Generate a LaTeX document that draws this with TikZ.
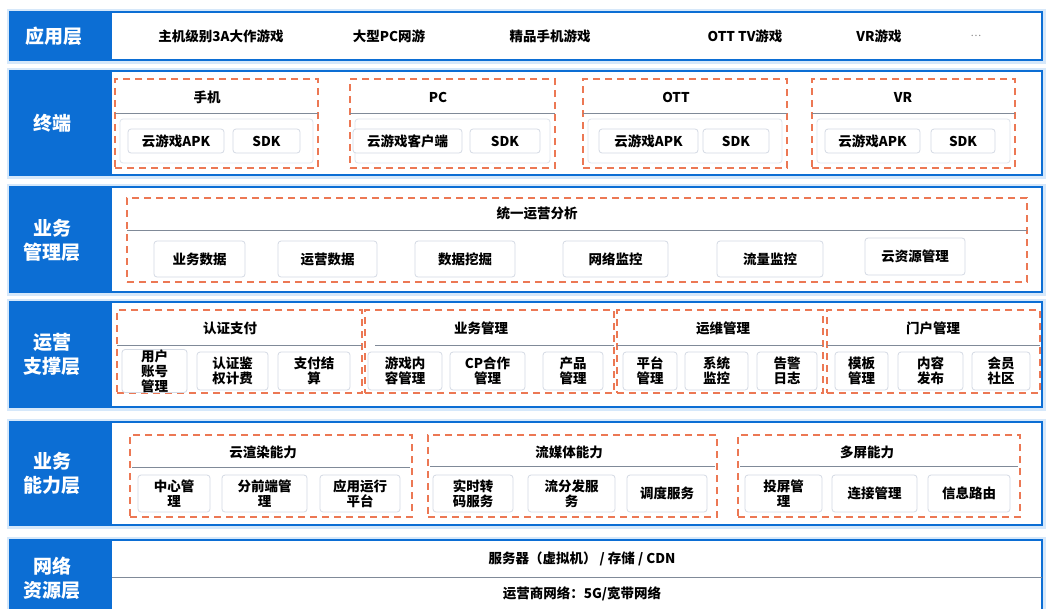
\documentclass[tikz,border=0pt]{standalone}
\usepackage{fontspec}
\setmainfont{Noto Sans CJK SC}
\definecolor{lblue}{RGB}{12,110,212}
\definecolor{glow}{RGB}{214,232,250}
\definecolor{dorange}{RGB}{236,120,84}
\definecolor{divgrey}{RGB}{128,138,152}
\definecolor{btngrey}{RGB}{212,218,228}
\definecolor{inner}{RGB}{222,228,236}
\newcommand\mkbox[7]{\node[#1, minimum width={#5-#3}, minimum height={#6-#4}] (#2) at ({(#3+#5)/2},{(#4+#6)/2}) {#7};}
\begin{document}
\begin{tikzpicture}[x=1pt,y=-1pt,
  bandglow/.style={draw=glow, line width=7pt, inner sep=0},
  band/.style={draw=lblue, line width=2.6pt, fill=white, inner sep=0},
  lab/.style={fill=lblue, inner sep=0},
  labtext/.style={text=white, font=\fontsize{19}{24}\selectfont\bfseries, align=center, inner sep=0},
  grp/.style={draw=dorange, line width=1.3pt, dash pattern=on 7pt off 5pt, inner sep=0},
  inbox/.style={draw=inner, line width=0.8pt, rounded corners=3pt, inner sep=0},
  btn/.style={draw=btngrey, fill=white, rounded corners=3pt, line width=0.8pt, font=\fontsize{13.5}{15}\selectfont\bfseries, align=center, inner sep=0},
  ttl/.style={font=\fontsize{13.5}{15}\selectfont\bfseries, inner sep=0},
  apptext/.style={font=\fontsize{13.5}{15}\selectfont\bfseries, inner sep=0},
  div/.style={draw=divgrey, line width=1pt}]
\useasboundingbox[fill=white] (0,0) rectangle (1051,608);

% ---------- Band 1 ----------
\mkbox{bandglow}{G1}{10}{12}{1042}{60}{}
\mkbox{band}{B1}{10}{12}{1042}{60}{}
\mkbox{lab}{L1}{10}{12}{112}{60}{}
\node[labtext] (T1) at (54,36) {应用层};
\node[apptext] (a1) at (221,36) {主机级别3A大作游戏};
\node[apptext] (a2) at (389,36) {大型PC网游};
\node[apptext] (a3) at (550,36) {精品手机游戏};
\node[apptext] (a4) at (745,36) {OTT TV游戏};
\node[apptext] (a5) at (879,36) {VR游戏};
\node[apptext, text=gray, font=\fontsize{10}{12}\selectfont] (a6) at (976,36) {…};

% ---------- Band 2 ----------
\mkbox{bandglow}{G2}{10}{71}{1042}{175}{}
\mkbox{band}{B2}{10}{71}{1042}{175}{}
\mkbox{lab}{L2}{10}{71}{112}{175}{}
\node[labtext] (T2) at (52,123) {终端};
% groups
\mkbox{grp}{g21}{115}{79}{318}{168}{}
\mkbox{grp}{g22}{350}{79}{555}{168}{}
\mkbox{grp}{g23}{583}{79}{787}{168}{}
\mkbox{grp}{g24}{812}{79}{1015}{168}{}
\node[ttl] (t21) at (207,97) {手机};
\node[ttl] (t22) at (438,97) {PC};
\node[ttl] (t23) at (676,97) {OTT};
\node[ttl] (t24) at (903,97) {VR};
\draw[div] (115,113) -- (318,113);
\draw[div] (350,113) -- (555,113);
\draw[div] (583,113) -- (787,113);
\draw[div] (812,113) -- (1015,113);
\mkbox{inbox}{i21}{120}{119}{313}{163}{}
\mkbox{inbox}{i22}{355}{119}{550}{163}{}
\mkbox{inbox}{i23}{588}{119}{782}{163}{}
\mkbox{inbox}{i24}{817}{119}{1010}{163}{}
\mkbox{btn}{b211}{128}{129}{224}{153}{云游戏APK}
\mkbox{btn}{b212}{233}{129}{300}{153}{SDK}
\mkbox{btn}{b221}{353}{129}{462}{153}{云游戏客户端}
\mkbox{btn}{b222}{470}{129}{540}{153}{SDK}
\mkbox{btn}{b231}{599}{129}{698}{153}{云游戏APK}
\mkbox{btn}{b232}{703}{129}{769}{153}{SDK}
\mkbox{btn}{b241}{825}{129}{920}{153}{云游戏APK}
\mkbox{btn}{b242}{931}{129}{995}{153}{SDK}

% ---------- Band 3 ----------
\mkbox{bandglow}{G3}{10}{187}{1042}{292}{}
\mkbox{band}{B3}{10}{187}{1042}{292}{}
\mkbox{lab}{L3}{10}{187}{112}{292}{}
\node[labtext] (T3) at (52,240) {业务\\管理层};
\mkbox{grp}{g31}{127}{198}{1027}{282}{}
\node[ttl] (t31) at (537,213) {统一运营分析};
\draw[div] (127,230) -- (1027,230);
\mkbox{btn}{b31}{154}{241}{245}{277}{业务数据}
\mkbox{btn}{b32}{278}{241}{377}{277}{运营数据}
\mkbox{btn}{b33}{415}{241}{515}{277}{数据挖掘}
\mkbox{btn}{b34}{563}{241}{668}{277}{网络监控}
\mkbox{btn}{b35}{717}{241}{823}{277}{流量监控}
\mkbox{btn}{b36}{865}{238}{965}{275}{云资源管理}

% ---------- Band 4 ----------
\mkbox{bandglow}{G4}{10}{302}{1042}{407}{}
\mkbox{band}{B4}{10}{302}{1042}{407}{}
\mkbox{lab}{L4}{10}{302}{112}{407}{}
\node[labtext] (T4) at (52,354) {运营\\支撑层};
\mkbox{grp}{g41}{117}{310}{362}{393}{}
\mkbox{grp}{g42}{365}{310}{614}{393}{}
\mkbox{grp}{g43}{617}{310}{823}{393}{}
\mkbox{grp}{g44}{827}{310}{1040}{393}{}
\node[ttl] (t41) at (230,328) {认证支付};
\node[ttl] (t42) at (481,328) {业务管理};
\node[ttl] (t43) at (723,328) {运维管理};
\node[ttl] (t44) at (933,328) {门户管理};
\draw[div] (117,345) -- (362,345);
\draw[div] (375,345) -- (614,345);
\draw[div] (617,345) -- (823,345);
\draw[div] (827,345) -- (1040,345);
\mkbox{btn}{b411}{122}{352}{187}{390}{用户\\账号\\管理}
\mkbox{btn}{b412}{197}{352}{268}{390}{认证鉴\\权计费}
\mkbox{btn}{b413}{278}{352}{350}{390}{支付结\\算}
\mkbox{btn}{b421}{368}{352}{442}{390}{游戏内\\容管理}
\mkbox{btn}{b422}{450}{352}{525}{390}{CP合作\\管理}
\mkbox{btn}{b423}{543}{352}{603}{390}{产品\\管理}
\mkbox{btn}{b431}{623}{352}{677}{390}{平台\\管理}
\mkbox{btn}{b432}{685}{352}{748}{390}{系统\\监控}
\mkbox{btn}{b433}{757}{352}{817}{390}{告警\\日志}
\mkbox{btn}{b441}{835}{352}{888}{390}{模板\\管理}
\mkbox{btn}{b442}{898}{352}{963}{390}{内容\\发布}
\mkbox{btn}{b443}{972}{352}{1030}{390}{会员\\社区}

% ---------- Band 5 ----------
\mkbox{bandglow}{G5}{10}{422}{1042}{525}{}
\mkbox{band}{B5}{10}{422}{1042}{525}{}
\mkbox{lab}{L5}{10}{422}{112}{525}{}
\node[labtext] (T5) at (52,473) {业务\\能力层};
\mkbox{grp}{g51}{130}{435}{412}{517}{}
\mkbox{grp}{g52}{428}{435}{717}{517}{}
\mkbox{grp}{g53}{738}{435}{1020}{517}{}
\node[ttl] (t51) at (263,452) {云渲染能力};
\node[ttl] (t52) at (569,452) {流媒体能力};
\node[ttl] (t53) at (867,452) {多屏能力};
\draw[div] (132,467) -- (410,467);
\draw[div] (430,466) -- (715,466);
\draw[div] (740,466) -- (1018,466);
\mkbox{btn}{b511}{138}{475}{210}{512}{中心管\\理}
\mkbox{btn}{b512}{222}{475}{307}{512}{分前端管\\理}
\mkbox{btn}{b513}{320}{475}{400}{512}{应用运行\\平台}
\mkbox{btn}{b521}{433}{475}{513}{512}{实时转\\码服务}
\mkbox{btn}{b522}{528}{475}{615}{512}{流分发服\\务}
\mkbox{btn}{b523}{627}{475}{707}{512}{调度服务}
\mkbox{btn}{b531}{745}{475}{822}{512}{投屏管\\理}
\mkbox{btn}{b532}{832}{475}{917}{512}{连接管理}
\mkbox{btn}{b533}{928}{475}{1010}{512}{信息路由}

% ---------- Band 6 ----------
\mkbox{bandglow}{G6}{10}{540}{1042}{614}{}
\mkbox{band}{B6}{10}{540}{1042}{614}{}
\mkbox{lab}{L6}{10}{540}{112}{614}{}
\node[labtext] (T6) at (52,578) {网络\\资源层};
\draw[div] (112,577) -- (1042,577);
\node[apptext] (n61) at (582,559) {服务器（虚拟机） / 存储 / CDN};
\node[apptext] (n62) at (582,594) {运营商网络：5G/宽带网络};
\end{tikzpicture}
\end{document}
